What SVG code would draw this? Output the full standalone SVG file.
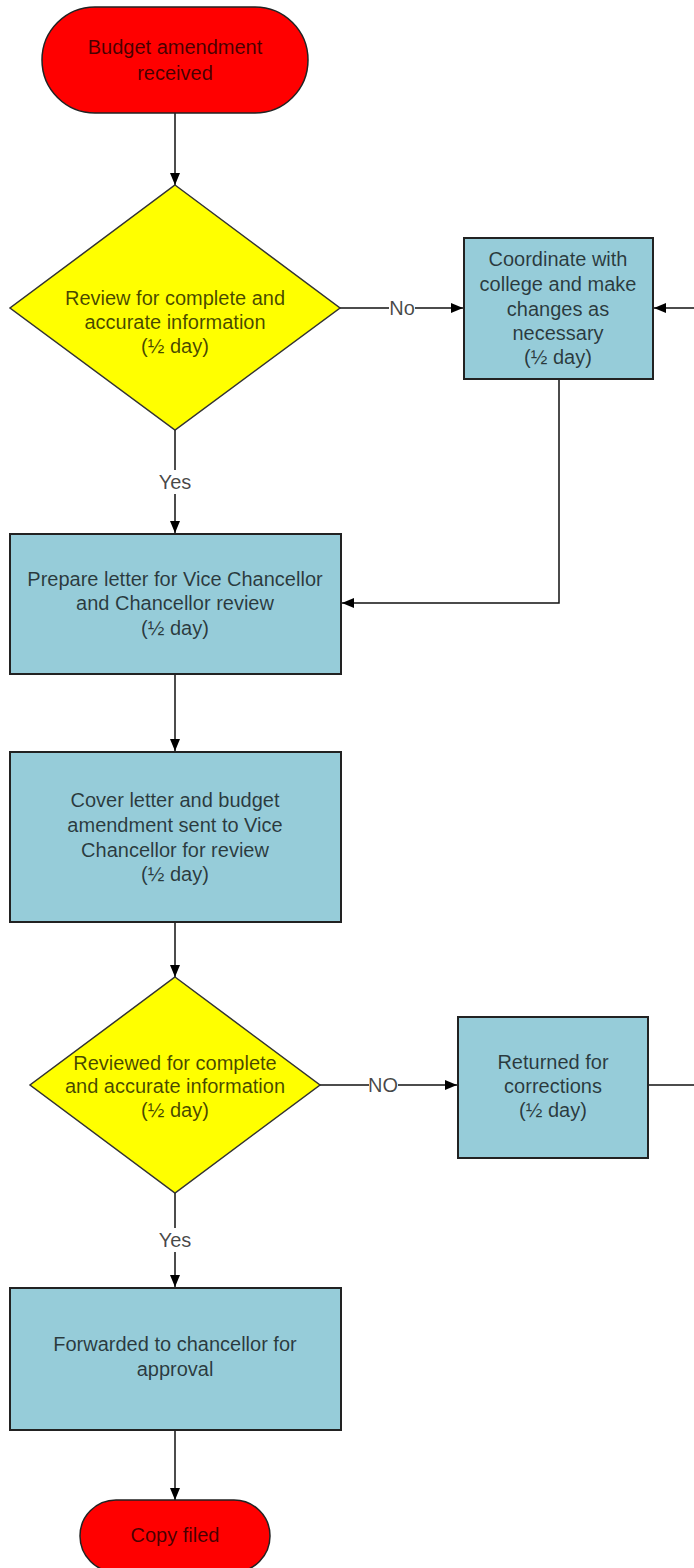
<svg xmlns="http://www.w3.org/2000/svg" width="694" height="1568" viewBox="0 0 694 1568">
  <style>
    .term { fill: #ff0000; stroke: #222; stroke-width: 1.5; }
    .dec { fill: #ffff00; stroke: #333; stroke-width: 1.5; }
    .proc { fill: #96ccd9; stroke: #222; stroke-width: 2; }
    .lbl { font-family: "Liberation Sans", Arial, sans-serif; font-size: 20px; fill: #000; fill-opacity: 0.72; text-anchor: middle; dominant-baseline: central; }
    .edge { fill: none; stroke: #111; stroke-width: 1.5; }
    .bg { fill: #fff; }
  </style>
  <defs>
    <marker id="arrow" viewBox="0 0 12 12" refX="12" refY="6" markerWidth="12" markerHeight="12" markerUnits="userSpaceOnUse" orient="auto">
      <path d="M0,1 L12,6 L0,11 Z" fill="#000"/>
    </marker>
  </defs>
  <rect width="694" height="1568" fill="#fff"/>

  <g id="connectors">
    <path class="edge" d="M175,113 V185" marker-end="url(#arrow)"/>
    <path class="edge" d="M340,308 H463" marker-end="url(#arrow)"/>
    <rect class="bg" x="389" y="298" width="26" height="20"/>
    <text class="lbl" x="402" y="308">No</text>
    <path class="edge" d="M694,308 H654" marker-end="url(#arrow)"/>
    <path class="edge" d="M559,379 V603 H342" marker-end="url(#arrow)"/>
    <path class="edge" d="M175,430 V533" marker-end="url(#arrow)"/>
    <rect class="bg" x="155" y="470" width="40" height="24"/>
    <text class="lbl" x="175" y="482">Yes</text>
    <path class="edge" d="M175,674 V751" marker-end="url(#arrow)"/>
    <path class="edge" d="M175,922 V977" marker-end="url(#arrow)"/>
    <path class="edge" d="M320,1085 H457" marker-end="url(#arrow)"/>
    <rect class="bg" x="369" y="1075" width="29" height="20"/>
    <text class="lbl" x="383" y="1085">NO</text>
    <path class="edge" d="M648,1085 H694"/>
    <path class="edge" d="M175,1193 V1287" marker-end="url(#arrow)"/>
    <rect class="bg" x="155" y="1228" width="40" height="24"/>
    <text class="lbl" x="175" y="1240">Yes</text>
    <path class="edge" d="M175,1430 V1500" marker-end="url(#arrow)"/>
  </g>

  <g id="start">
    <rect class="term" x="42" y="7" width="266" height="106" rx="53" ry="53"/>
    <text class="lbl" x="175" y="47">Budget amendment</text>
    <text class="lbl" x="175" y="73">received</text>
  </g>

  <g id="review1">
    <polygon class="dec" points="175,185 340,308 175,430 10,308"/>
    <text class="lbl" x="175" y="298">Review for complete and</text>
    <text class="lbl" x="175" y="322">accurate information</text>
    <text class="lbl" x="175" y="346">(½ day)</text>
  </g>

  <g id="coordinate">
    <rect class="proc" x="464" y="238" width="189" height="141"/>
    <text class="lbl" x="558" y="259">Coordinate with</text>
    <text class="lbl" x="558" y="284">college and make</text>
    <text class="lbl" x="558" y="309">changes as</text>
    <text class="lbl" x="558" y="333">necessary</text>
    <text class="lbl" x="558" y="357">(½ day)</text>
  </g>

  <g id="prepare">
    <rect class="proc" x="10" y="534" width="331" height="140"/>
    <text class="lbl" x="175" y="579">Prepare letter for Vice Chancellor</text>
    <text class="lbl" x="175" y="603">and Chancellor review</text>
    <text class="lbl" x="175" y="628">(½ day)</text>
  </g>

  <g id="cover">
    <rect class="proc" x="10" y="752" width="331" height="170"/>
    <text class="lbl" x="175" y="800">Cover letter and budget</text>
    <text class="lbl" x="175" y="825">amendment sent to Vice</text>
    <text class="lbl" x="175" y="850">Chancellor for review</text>
    <text class="lbl" x="175" y="874">(½ day)</text>
  </g>

  <g id="review2">
    <polygon class="dec" points="175,977 320,1085 175,1193 30,1085"/>
    <text class="lbl" x="175" y="1063">Reviewed for complete</text>
    <text class="lbl" x="175" y="1086">and accurate information</text>
    <text class="lbl" x="175" y="1110">(½ day)</text>
  </g>

  <g id="returned">
    <rect class="proc" x="458" y="1017" width="190" height="141"/>
    <text class="lbl" x="553" y="1062">Returned for</text>
    <text class="lbl" x="553" y="1086">corrections</text>
    <text class="lbl" x="553" y="1110">(½ day)</text>
  </g>

  <g id="forwarded">
    <rect class="proc" x="10" y="1288" width="331" height="142"/>
    <text class="lbl" x="175" y="1344">Forwarded to chancellor for</text>
    <text class="lbl" x="175" y="1369">approval</text>
  </g>

  <g id="end">
    <rect class="term" x="80" y="1500" width="190" height="72" rx="36" ry="36"/>
    <text class="lbl" x="175" y="1535">Copy filed</text>
  </g>
</svg>
